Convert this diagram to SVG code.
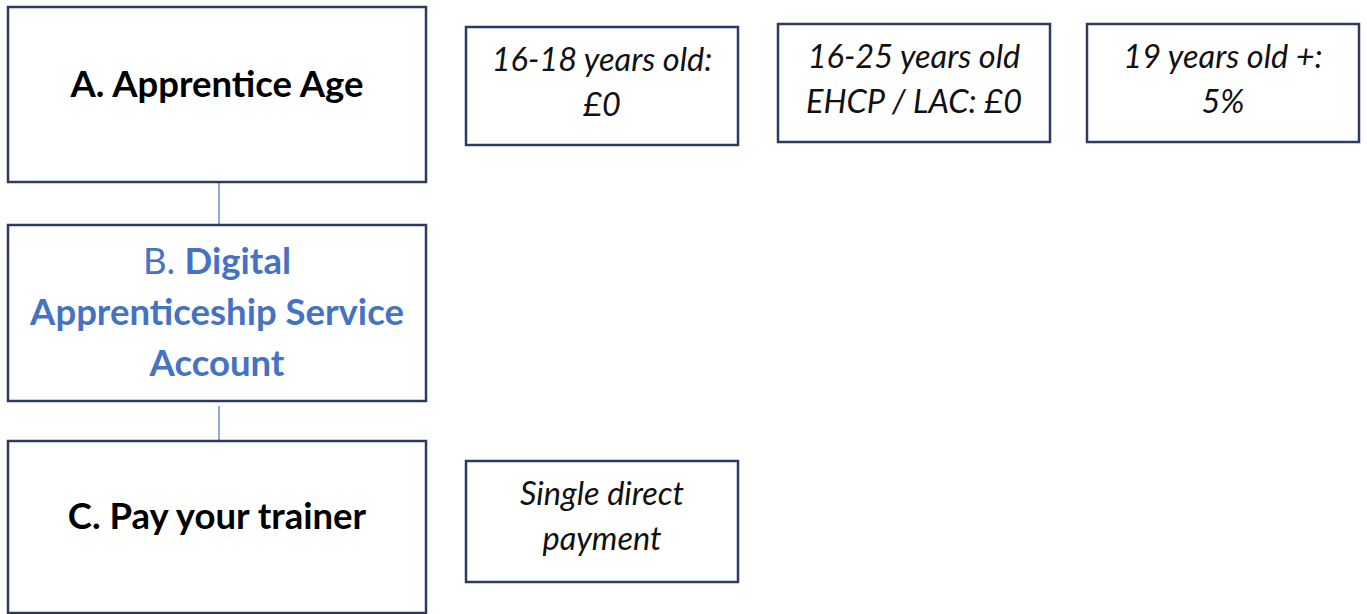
<svg xmlns="http://www.w3.org/2000/svg" width="1367" height="614" viewBox="0 0 1367 614">
<style>
.box{fill:#fff;stroke:#2E3B5E;stroke-width:2.5}
.big{font-family:Lato,"Open Sans",sans-serif;font-weight:bold;font-size:36.5px;fill:#000;text-anchor:middle}
.blue{fill:#4472C4}
.it{font-family:Lato,"Open Sans",sans-serif;font-style:italic;font-size:32.5px;fill:#111;text-anchor:middle}
.conn{stroke:#4472C4;stroke-width:1.2;fill:none}
</style>
<g id="connectors">
<line class="conn" x1="219" y1="182" x2="219" y2="225"/>
<line class="conn" x1="219" y1="406" x2="219" y2="441"/>
</g>
<g id="nodeA"><rect class="box" x="8" y="7" width="418" height="175"/><text class="big" x="217" y="97">A. Apprentice Age</text></g>
<g id="nodeB"><rect class="box" x="8" y="225" width="418" height="176"/>
<text class="big blue" x="217" y="274"><tspan font-weight="normal">B. </tspan>Digital</text>
<text class="big blue" x="217" y="325">Apprenticeship Service</text>
<text class="big blue" x="217" y="376">Account</text></g>
<g id="nodeC"><rect class="box" x="8" y="441" width="418" height="172"/><text class="big" x="217" y="529">C. Pay your trainer</text></g>
<g id="age1"><rect class="box" x="466" y="27" width="272" height="118"/><text class="it" x="602" y="71">16-18 years old:</text><text class="it" x="602" y="116">£0</text></g>
<g id="age2"><rect class="box" x="778" y="24" width="272" height="118"/><text class="it" x="914" y="68">16-25 years old</text><text class="it" x="914" y="113">EHCP / LAC: £0</text></g>
<g id="age3"><rect class="box" x="1087" y="24" width="272" height="118"/><text class="it" x="1223" y="68">19 years old +:</text><text class="it" x="1223" y="113">5%</text></g>
<g id="pay"><rect class="box" x="466" y="461" width="272" height="121"/><text class="it" x="602" y="505">Single direct</text><text class="it" x="602" y="550">payment</text></g>
</svg>
